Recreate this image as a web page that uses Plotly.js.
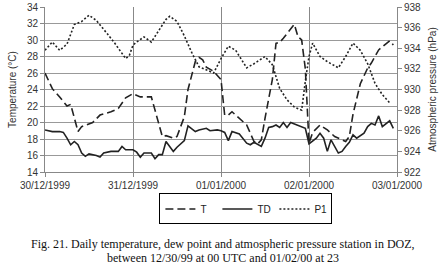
<!DOCTYPE html>
<html>
<head>
<meta charset="utf-8">
<script src="https://cdn.plot.ly/plotly-3.0.1.min.js"></script>
<style>html,body{margin:0;padding:0;background:#fff;}#chart{width:447px;height:272px;}</style>
</head>
<body>
<div id="chart"></div>
<script>
// hours since 30/12/1999 00 UTC
const tHours = [0,2,4,6,7,9,10,12,13,15,18,20,22,24,26,29,31,32,33,35,36,38,39,41,42,43,44,46,47,48,49,50,51,53,55,56,57,58,59,60,62,63,64,65,67,68,69,70,71,72,73,75,77,79,82,83,84,86,88,89,91,93,94,95];
const tValues = [26.0,24.1,23.1,22.0,22.2,18.9,19.5,19.8,20.0,20.9,21.3,21.7,23.0,23.5,23.1,23.1,19.9,18.3,18.4,18.1,18.3,20.7,24.0,27.4,27.9,27.6,26.7,26.2,25.7,25.2,20.9,20.9,21.3,20.5,19.7,18.7,17.7,17.4,17.9,20.5,25.2,29.6,29.7,30.2,31.4,31.9,30.4,30.0,26.5,17.5,18.8,19.7,19.1,18.3,17.7,18.3,21.0,24.7,26.6,27.2,28.8,29.6,29.9,29.4];

const tdHours = [0,2,4,5,6,7,8,9,10,11,12,14,15,16,18,20,21,22,24,25,26,27,29,30,31,32,33,35,36,37,38,39,40,41,42,44,45,47,48,49,50,51,53,55,56,57,59,60,61,62,63,64,65,66,67,69,70,71,72,73,74,75,76,77,78,80,81,82,83,84,85,87,88,89,90,91,92,94,95];
const tdValues = [19.1,18.9,18.9,18.8,18.1,17.3,17.7,17.3,16.3,15.9,16.2,16.0,15.8,16.3,16.5,16.5,17.1,16.7,16.7,16.4,15.8,16.3,16.3,15.6,16.1,16.1,17.7,16.5,17.0,17.4,17.8,19.6,19.2,18.9,19.1,19.3,19.0,19.1,19.0,18.8,17.8,18.9,18.6,17.5,17.3,17.6,17.1,18.1,19.4,19.5,19.7,19.4,20.0,19.4,20.0,19.6,19.4,19.3,17.4,17.8,18.1,18.7,18.1,16.5,17.9,16.3,16.5,17.1,17.6,18.5,18.1,18.7,19.5,19.9,19.7,20.8,19.5,20.2,19.3];

const pHours = [0,2,4,6,8,10,12,14,17,19,22,23,24,25,27,29,31,33,34,36,38,40,42,44,46,47,48,50,52,55,57,60,62,64,66,68,70,71,72,73,75,77,80,82,84,86,88,90,92,94];
const pValues = [933.8,934.6,933.8,934.4,936.3,936.6,937.2,936.7,935.4,934.5,933.0,933.3,934.3,934.6,935.1,934.6,935.7,936.8,937.1,936.6,935.2,933.6,932.2,931.9,931.6,932.3,933.0,934.2,933.8,932.1,932.5,933.2,932.4,930.1,929.0,928.3,928.0,930.8,933.2,934.5,933.2,932.7,932.1,933.2,934.5,933.8,932.5,930.6,929.5,928.7];

const dayTicks = [0,24,48,72,96];
const dayLabels = ['30/12/1999','31/12/1999','01/01/2000','02/01/2000','03/01/2000'];
const captionLines = ['Fig. 21. Daily temperature, dew point and atmospheric pressure station in DOZ,',
                      'between 12/30/99 at 00 UTC and 01/02/00 at 23'];

const lineColor = '#222';
const traces = [
  {x: tHours, y: tValues, name: 'T', type: 'scatter', mode: 'lines',
   line: {color: lineColor, width: 1.6, dash: '8px,4px'}},
  {x: tdHours, y: tdValues, name: 'TD', type: 'scatter', mode: 'lines',
   line: {color: lineColor, width: 1.6}},
  {x: pHours, y: pValues, name: 'P1', type: 'scatter', mode: 'lines', yaxis: 'y2',
   line: {color: lineColor, width: 1.6, dash: '2px,2px'}}
];

const tickFont = {family: 'Liberation Sans, Arial, sans-serif', size: 10, color: '#333'};
const capFont = {family: 'Liberation Serif, Times New Roman, serif', size: 12, color: '#111'};
const layout = {
  width: 447, height: 272,
  margin: {l: 45, r: 50, t: 7, b: 100},
  paper_bgcolor: '#fff', plot_bgcolor: '#fff',
  showlegend: true,
  xaxis: {
    range: [0, 96], tickvals: dayTicks, ticktext: dayLabels,
    showgrid: true, gridcolor: '#888', gridwidth: 1,
    showline: true, linecolor: '#888', linewidth: 1,
    ticks: 'outside', ticklen: 4, tickcolor: '#888',
    tickfont: tickFont, zeroline: false
  },
  yaxis: {
    range: [14, 34], dtick: 2,
    showgrid: true, gridcolor: '#999', gridwidth: 1,
    showline: true, linecolor: '#888', linewidth: 1,
    ticks: 'outside', ticklen: 4, tickcolor: '#888',
    tickfont: tickFont, zeroline: false,
    title: {text: 'Temperature (°C)', font: tickFont, standoff: 8}
  },
  yaxis2: {
    range: [922, 938], dtick: 2, overlaying: 'y', side: 'right',
    showgrid: false, showline: true, linecolor: '#888', linewidth: 1,
    ticks: 'outside', ticklen: 4, tickcolor: '#888',
    tickfont: tickFont, zeroline: false,
    title: {text: 'Atmospheric pressure (hPa)', font: tickFont, standoff: 8}
  },
  legend: {
    orientation: 'h', x: 0.325, xanchor: 'left', y: -0.13, yanchor: 'top',
    bordercolor: '#000', borderwidth: 1, bgcolor: '#fff',
    font: {family: 'Liberation Sans, Arial, sans-serif', size: 10, color: '#222'},
    entrywidth: 12, entrywidthmode: 'pixels', tracegroupgap: 0
  },
  annotations: [
    {xref: 'paper', yref: 'paper', x: 0.507, y: -0.436, xanchor: 'center', yanchor: 'middle',
     showarrow: false, borderpad: 0, text: captionLines[0], font: capFont},
    {xref: 'paper', yref: 'paper', x: 0.507, y: -0.522, xanchor: 'center', yanchor: 'middle',
     showarrow: false, borderpad: 0, text: captionLines[1], font: capFont}
  ]
};

Plotly.newPlot('chart', traces, layout, {displayModeBar: false, staticPlot: true});
</script>
</body>
</html>
